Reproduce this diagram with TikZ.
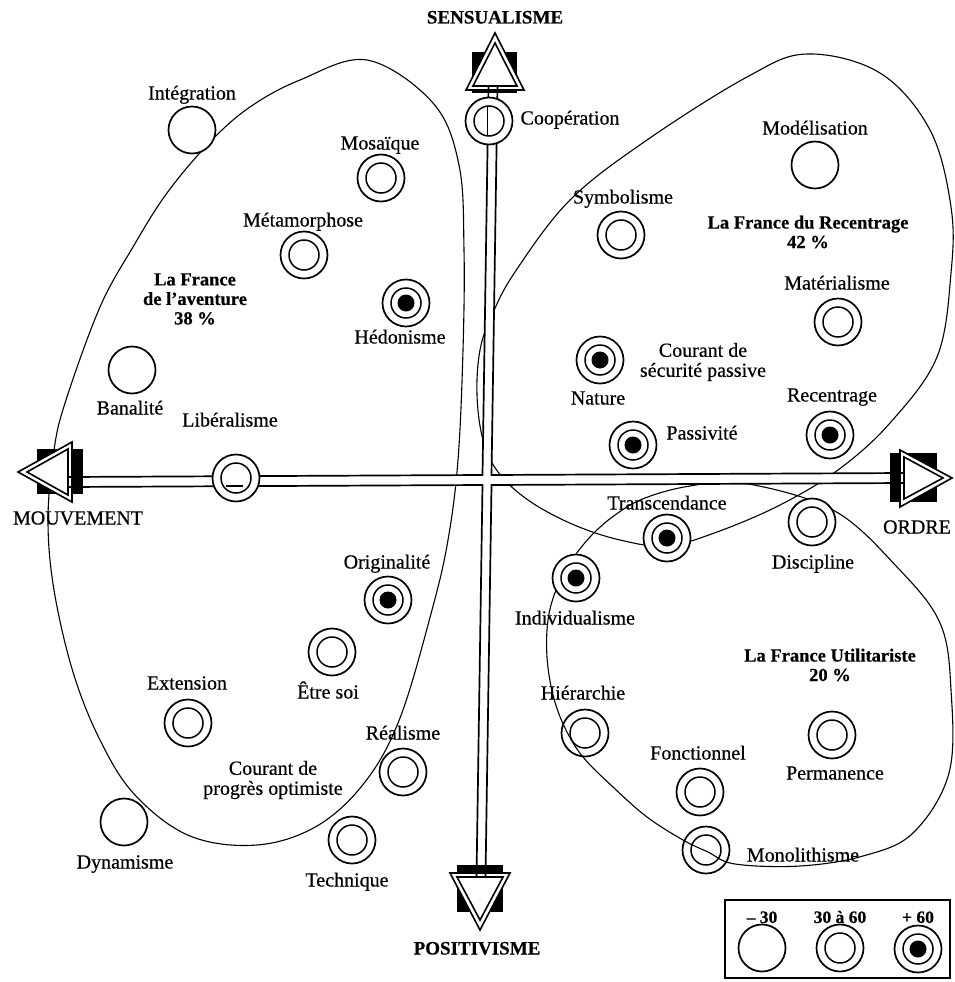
\documentclass[tikz,border=0pt]{standalone}
\usepackage{fontspec}
\setmainfont{Liberation Serif}[FakeBold=0.5]
\begin{document}
\begin{tikzpicture}[x=1pt,y=-1pt,
  lone/.style={circle,draw,line width=1.7pt,minimum size=47pt,inner sep=0pt,fill=white},
  hollow/.style={fill=none},
  ring/.style={lone,path picture={\draw[black,line width=1.5pt] (path picture bounding box.center) circle[radius=15pt];}},
  dot/.style={lone,path picture={\draw[black,line width=1.5pt] (path picture bounding box.center) circle[radius=15pt];
      \fill[black] (path picture bounding box.center) circle[radius=8.5pt];}},
  lbl/.style={font=\fontsize{20}{20}\selectfont,inner sep=0pt,anchor=base,yshift=-6.5pt},
  two/.style={font=\fontsize{20}{20}\selectfont,inner sep=0pt,align=center},
  grp/.style={font=\bfseries\fontsize{18.5}{19.5}\selectfont,inner sep=0pt,align=center},
  axname/.style={font=\fontsize{20}{20}\selectfont,inner sep=0pt,anchor=base,yshift=-6.5pt},
  axbold/.style={font=\bfseries\fontsize{19}{19}\selectfont,inner sep=0pt,anchor=base,yshift=-6.5pt},
  leg/.style={font=\bfseries\fontsize{17.5}{18}\selectfont,inner sep=0pt,anchor=base,yshift=-6pt},
  zone/.style={line width=1.1pt},
  shaft/.style={line width=1.7pt},
  head/.style={fill=white,draw,line width=1.6pt,line join=miter},
  inhead/.style={draw,line width=1.6pt,line join=miter}
]
\useasboundingbox (0,0) rectangle (954,982);

% ---------- zones ----------
\draw[zone] plot[smooth cycle,tension=0.6] coordinates {
 (367,60) (433,103) (459,165) (464,250) (463,350) (458,460) (448,540) (432,610)
 (400,718) (365,782) (317,826) (257,845) (190,836) (135,795) (100,740) (73,672)
 (54,590) (48,520) (54,450) (66,400) (100,307) (133,247) (167,193) (210,142)
 (250,107) (300,80)};
\draw[zone] plot[smooth cycle,tension=0.6] coordinates {
 (807,54) (880,73) (930,130) (951,207) (951,273) (937,357) (890,423) (838,470)
 (780,505) (717,532) (667,546) (620,540) (572,524) (528,500) (498,472) (483,440)
 (477,395) (480,350) (492,315) (515,272) (570,200) (647,140) (747,77)};
\draw[zone] plot[smooth cycle,tension=0.6] coordinates {
 (743,483) (833,510) (897,567) (940,623) (951,690) (949,773) (913,833) (863,856)
 (800,866) (735,864) (708,852) (683,840) (647,817) (613,787) (583,757) (565,728)
 (553,695) (547,657) (548,620) (556,590) (570,563) (590,537) (615,515) (645,498)
 (690,486)};

% ---------- axes ----------
\fill[white] (488.5,90) -- (497.5,90) -- (485.5,866) -- (476.5,866) -- cycle;
\fill[white] (72,477) -- (900,473) -- (900,483) -- (72,487) -- cycle;

% arrow heads
\fill (472,52) rectangle (517,93);
\fill (457,865) rectangle (503,912);
\fill (890,453) rectangle (937,502);
\fill (37,449) rectangle (83,494);
\draw[head] (495,33) -- (466,90) -- (524,90) -- cycle;
\draw[inhead] (495,43) -- (473,86) -- (517,86) -- cycle;
\draw[head] (480,930) -- (450,873) -- (510,873) -- cycle;
\draw[inhead] (480,920) -- (457,877) -- (503,877) -- cycle;
\draw[head] (952,478) -- (900,450) -- (900,507) -- cycle;
\draw[inhead] (943,478) -- (904,457) -- (904,499) -- cycle;
\draw[head] (18,472) -- (72,442) -- (72,502) -- cycle;
\draw[inhead] (27,472) -- (68,449) -- (68,495) -- cycle;

\coordinate (tl) at (482.5,475);
\coordinate (tr) at (491.5,475);
\coordinate (bl) at (482.5,485);
\coordinate (br) at (491.5,485);
\coordinate (topL) at (488.5,86);
\coordinate (topR) at (497.5,86);
\coordinate (botL) at (476.5,877);
\coordinate (botR) at (485.5,877);
\coordinate (lefT) at (68,477);
\coordinate (lefB) at (68,487);
\coordinate (rigT) at (904,473);
\coordinate (rigB) at (904,483);
\draw[shaft] (topL) -- (tl) -- (lefT);
\draw[shaft] (topR) -- (tr) -- (rigT);
\draw[shaft] (lefB) -- (bl) -- (botL);
\draw[shaft] (rigB) -- (br) -- (botR);

\node[axbold] (sens) at (495,17) {SENSUALISME};
\node[axbold] (posi) at (477,948) {POSITIVISME};
\node[axname] (mouv) at (78,518) {MOUVEMENT};
\node[axname] (ordre) at (917,527) {ORDRE};

% ---------- circles ----------
\node[ring] (coop) at (489,121) {};
\draw[line width=1.5pt] (487.5,106) -- (487.5,136);
\node[lone] (integ) at (192,130) {};
\node[ring] (mosa) at (381,178) {};
\node[lone] (model) at (815,165) {};
\node[ring] (symb) at (621,235) {};
\node[ring] (meta) at (304,255) {};
\node[dot] (hedo) at (406,303) {};
\node[ring] (mater) at (838,322) {};
\node[dot] (natu) at (600,360) {};
\node[lone] (bana) at (132,370) {};
\node[dot] (recen) at (830,435) {};
\node[dot] (passi) at (633,445) {};
\node[ring] (libe) at (236,478) {};
\draw[line width=1.5pt] (226,486) -- (243,486);
\node[dot] (trans) at (667,538) {};
\node[ring] (disc) at (812,522) {};
\node[dot] (orig) at (388,600) {};
\node[dot] (indiv) at (576,578) {};
\node[ring] (etre) at (332,652) {};
\node[ring] (exten) at (188,723) {};
\node[ring,hollow] (hier) at (585,733) {};
\node[ring] (perm) at (832,735) {};
\node[ring] (real) at (403,772) {};
\node[ring] (fonc) at (700,792) {};
\node[lone] (dyna) at (124,822) {};
\node[ring] (tech) at (352,840) {};
\node[ring,hollow] (mono) at (706,850) {};

% ---------- labels ----------
\node[lbl] (tcoop) at (570,118) {Coopération};
\node[lbl] (tinteg) at (192,93) {Intégration};
\node[lbl] (tmosa) at (380,143) {Mosaïque};
\node[lbl] (tmodel) at (815,128) {Modélisation};
\node[lbl] (tsymb) at (623,197) {Symbolisme};
\node[lbl] (tmeta) at (303,220) {Métamorphose};
\node[lbl] (tmater) at (837,283) {Matérialisme};
\node[lbl] (thedo) at (400,337) {Hédonisme};
\node[lbl] (tnatu) at (598,398) {Nature};
\node[lbl] (tbana) at (130,408) {Banalité};
\node[lbl] (trecen) at (832,395) {Recentrage};
\node[lbl] (tlibe) at (230,420) {Libéralisme};
\node[lbl] (tpassi) at (702,433) {Passivité};
\node[lbl] (ttrans) at (667,503) {Transcendance};
\node[lbl] (tdisc) at (813,562) {Discipline};
\node[lbl] (torig) at (387,562) {Originalité};
\node[lbl] (tindiv) at (575,618) {Individualisme};
\node[lbl] (tetre) at (328,692) {Être soi};
\node[lbl] (texten) at (187,683) {Extension};
\node[lbl] (thier) at (583,693) {Hiérarchie};
\node[lbl] (treal) at (403,733) {Réalisme};
\node[lbl] (tfonc) at (698,753) {Fonctionnel};
\node[lbl] (tperm) at (835,773) {Permanence};
\node[lbl] (tmono) at (803,855) {Monolithisme};
\node[lbl] (tdyna) at (125,862) {Dynamisme};
\node[lbl] (ttech) at (347,880) {Technique};

\node[two] (csec) at (703,362) {Courant de\\sécurité passive};
\node[two] (cprog) at (273,780) {Courant de\\progrès optimiste};

\node[grp] (gavent) at (195,299) {La France\\de l'aventure\\38 \%};
\node[grp] (grecen) at (808,232) {La France du Recentrage\\42 \%};
\node[grp] (gutil) at (830,665) {La France Utilitariste\\20 \%};

% ---------- legend ----------
\node[draw,line width=1.8pt,minimum width=225pt,minimum height=78pt,inner sep=0pt] (legend) at (837.5,939) {};
\node[lone] (lg1) at (762,948) {};
\node[ring] (lg2) at (840,948) {};
\node[dot] (lg3) at (918,949) {};
\node[leg] (tl1) at (762,917) {– 30};
\node[leg] (tl2) at (840,917) {30 à 60};
\node[leg] (tl3) at (918,917) {+ 60};
\end{tikzpicture}
\end{document}
